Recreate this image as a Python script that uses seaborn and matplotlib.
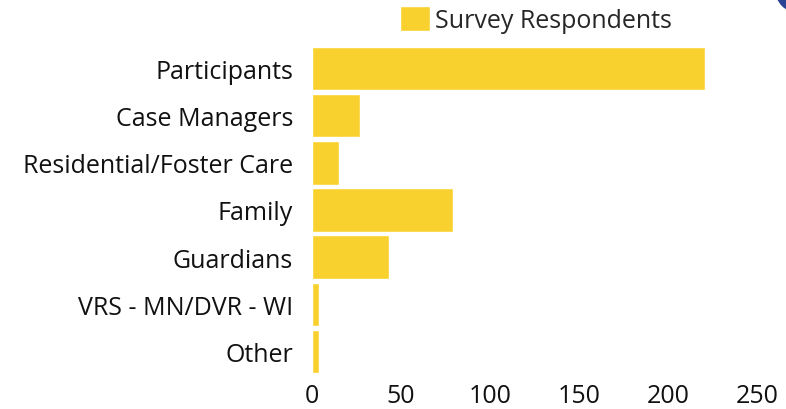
import pandas as pd
import matplotlib.pyplot as plt
import seaborn as sns
from matplotlib.patches import Circle

# Datos
categorias = ['Participants', 'Case Managers', 'Residential/Foster Care', 'Family',
              'Guardians', 'VRS - MN/DVR - WI', 'Other']
respuestas = [221, 27, 15, 79, 43, 4, 4]

df = pd.DataFrame({'Grupo': categorias, 'Respuestas': respuestas})

sns.set_style('white')
plt.rcParams['font.family'] = ['Open Sans', 'DejaVu Sans']

fig = plt.figure(figsize=(7.86, 4.10), dpi=100)
ax = fig.add_axes([312 / 786, 1 - 376 / 410, (757 - 312) / 786, (376 - 46) / 410])

sns.barplot(data=df, x='Respuestas', y='Grupo', color='#F9D12E', saturation=1,
            width=0.92, label='Survey Respondents', ax=ax)

ax.set_xlim(0, 250)
ax.set_xticks([0, 50, 100, 150, 200, 250])
ax.set_xlabel('')
ax.set_ylabel('')
ax.tick_params(axis='both', length=0, labelsize=18, colors='#111111')
ax.tick_params(axis='y', pad=13.5)
ax.tick_params(axis='x', pad=6)
sns.despine(ax=ax, left=True, bottom=True)

leg = ax.legend(loc='upper left', bbox_to_anchor=(385 / 786, 1.02), bbox_transform=fig.transFigure,
                frameon=False, fontsize=18, handlelength=1.2, handleheight=1.2,
                handletextpad=0.2, borderaxespad=0.2)

# decoración parcial arriba a la derecha
fig.patches.append(Circle((7.98, 4.19), 0.22, transform=fig.dpi_scale_trans,
                          color='#2A4494', clip_on=False))

fig.savefig('out.png', dpi=100)
